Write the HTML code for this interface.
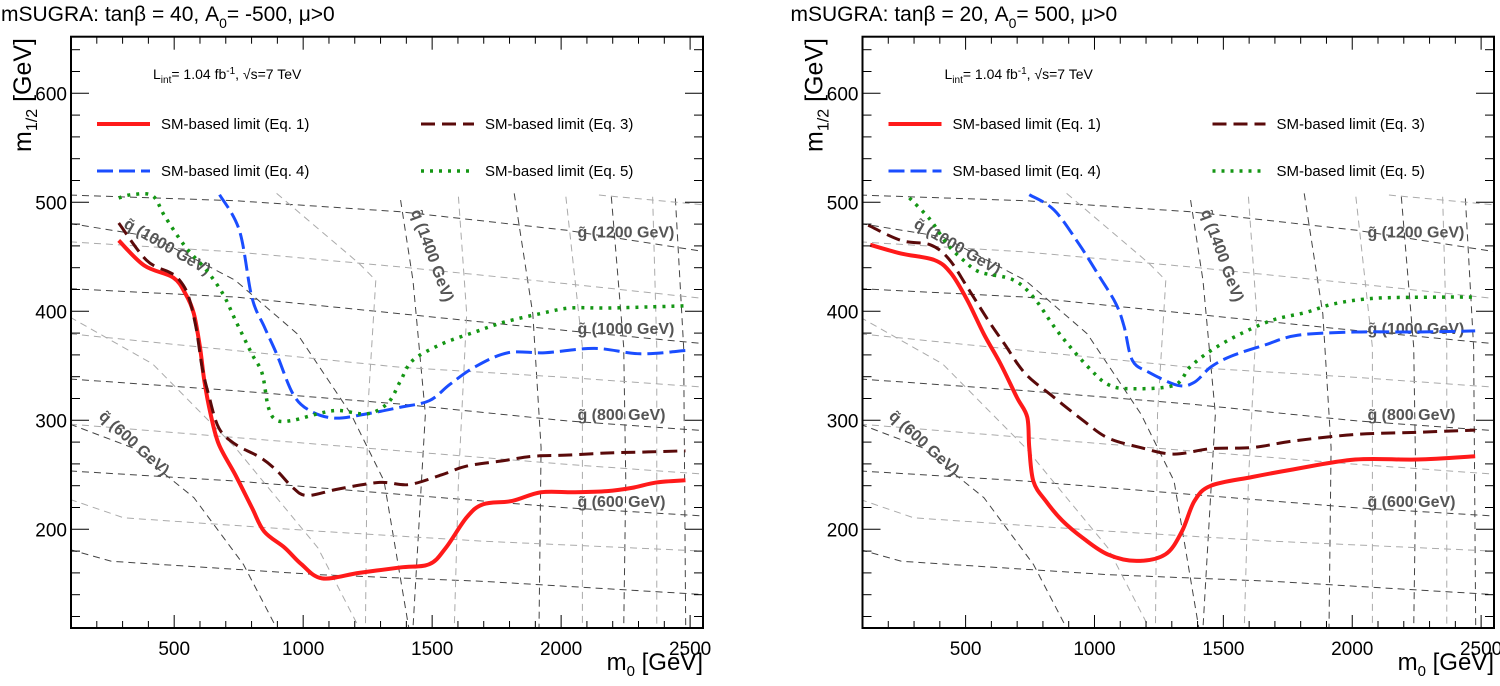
<!DOCTYPE html>
<html><head><meta charset="utf-8"><style>
html,body{margin:0;padding:0;background:#fff;width:1500px;height:686px;overflow:hidden}
svg{display:block;font-family:"Liberation Sans",sans-serif}
</style></head><body>
<svg id="chart" width="1500" height="686" xmlns="http://www.w3.org/2000/svg"></svg>
<script>
const xTicks=[500,1000,1500,2000,2500];
const yTicks=[200,300,400,500,600];
const titles=["mSUGRA: tanβ = 40, A","mSUGRA: tanβ = 20, A"];
const titleTails=["= -500, μ>0","= 500, μ>0"];
// left panel series [m0, m1/2]
const L_eq1_m0=[285,384,496,544,576,600,617,641,673,737,801,849,929,993,1073,1217,1377,1489,1553,1634,1698,1810,1922,2050,2178,2274,2370,2482];
const L_eq1_m12=[465,442,431,416,398,367,336,306,278,250,220,198,183,168,155,160,165,168,183,211,223,226,234,234,235,238,243,245];
const L_eq3_m0=[285,392,480,512,552,584,608,633,673,737,833,897,961,1017,1137,1297,1409,1537,1634,1778,1890,2018,2178,2338,2482];
const L_eq3_m12=[481,447,436,431,416,386,349,324,293,278,266,254,238,231,237,243,241,250,258,263,267,268,270,271,272];
const L_eq4_m0=[676,753,801,849,897,961,1025,1121,1249,1377,1489,1569,1666,1794,1938,2130,2306,2482];
const L_eq4_m12=[507,474,413,386,361,324,309,302,306,312,318,333,349,362,362,366,361,364];
const L_eq5_m0=[285,336,416,464,544,624,689,737,801,841,865,897,961,1057,1137,1249,1329,1377,1425,1537,1666,1778,1922,2034,2178,2338,2482];
const L_eq5_m12=[504,507,506,487,459,438,416,392,361,343,312,300,300,306,309,306,316,336,355,370,381,390,398,403,403,404,405];
// right panel series
const R_eq1_m0=[130,250,379,443,507,571,635,699,739,747,763,811,875,955,1051,1163,1275,1339,1388,1452,1612,1772,2012,2252,2477];
const R_eq1_m12=[461,453,447,435,410,379,352,321,303,275,244,226,208,192,177,171,177,198,226,240,248,255,264,264,267];
const R_eq3_m0=[122,250,363,435,507,587,651,731,843,955,1051,1179,1307,1452,1612,1772,2012,2252,2477];
const R_eq3_m12=[479,465,461,448,422,392,370,343,321,300,284,275,269,274,275,281,287,289,291];
const R_eq4_m0=[747,843,939,1019,1083,1115,1147,1211,1324,1388,1452,1532,1660,1788,2012,2252,2477];
const R_eq4_m12=[507,493,462,432,407,386,355,344,332,335,349,359,369,378,381,381,382];
const R_eq5_m0=[282,363,427,491,555,683,763,843,907,987,1051,1131,1307,1371,1452,1564,1692,1820,1932,2092,2332,2477];
const R_eq5_m12=[504,484,462,447,436,429,413,386,367,346,333,329,332,349,364,379,392,399,407,412,413,413];

const NS="http://www.w3.org/2000/svg";
const svg=document.getElementById('chart');
function mk(tag,attrs,parent){const e=document.createElementNS(NS,tag);for(const k in attrs)e.setAttribute(k,attrs[k]);(parent||svg).appendChild(e);return e;}
const TOP=36.7,BOT=628;
function yS(v){return 202.3-(v-500)*1.09;}
function smooth(P){let d='M'+P[0][0]+','+P[0][1];
 for(let i=0;i<P.length-1;i++){const p0=P[Math.max(0,i-1)],p1=P[i],p2=P[i+1],p3=P[Math.min(P.length-1,i+2)];
  const c1=[p1[0]+(p2[0]-p0[0])/6,p1[1]+(p2[1]-p0[1])/6],c2=[p2[0]-(p3[0]-p1[0])/6,p2[1]-(p3[1]-p1[1])/6];
  d+=' C'+c1.join(',')+' '+c2.join(',')+' '+p2.join(',');}
 return d;}

const bgDark=[[[0,45],[400,62],[800,95],[1200,150],[1540,215]],[[0,325],[400,350],[800,400],[1200,450],[1540,490]],[[0,595],[400,630],[800,670],[1200,720],[1540,750]],[[0,870],[400,900],[800,940],[1200,980],[1540,1005]],[[0,1105],[100,1140],[600,1180],[1000,1200],[1540,1240]],[[800,60],[830,300],[860,700],[830,1340]],[[1075,40],[1120,400],[1140,800],[1135,1340]],[[1310,50],[1340,500],[1345,900],[1340,1340]],[[1465,55],[1485,500],[1490,1340]],[[0,730],[150,800],[300,950],[420,1150],[500,1340]],[[0,130],[200,170],[400,300],[550,460],[680,700],[760,900],[820,1340]]];
const bgLight=[[[0,185],[400,215],[800,260],[1200,310],[1540,355]],[[0,460],[400,510],[800,560],[1200,590],[1540,620]],[[0,730],[400,770],[800,810],[1200,850],[1540,880]],[[0,955],[130,1010],[600,1050],[1000,1080],[1540,1110]],[[1280,45],[1540,75]],[[500,40],[700,250],[740,300],[720,700],[715,1340]],[[940,50],[960,400],[940,900],[930,1340]],[[1200,50],[1240,500],[1240,1340]],[[1410,50],[1420,500],[1420,1340]],[[0,410],[200,550],[400,800],[600,1100],[700,1340]]];

const panels=[
 {x0:71,x1:703,off:70,idx:0,series:[[L_eq1_m0,L_eq1_m12],[L_eq3_m0,L_eq3_m12],[L_eq4_m0,L_eq4_m12],[L_eq5_m0,L_eq5_m12]]},
 {x0:862.5,x1:1494,off:860,idx:1,series:[[R_eq1_m0,R_eq1_m12],[R_eq3_m0,R_eq3_m12],[R_eq4_m0,R_eq4_m12],[R_eq5_m0,R_eq5_m12]]}
];
const styles=[
 {stroke:'#ff1a1a',w:4,dash:'',name:'eq1-limit-curve',label:'SM-based limit (Eq. 1)'},
 {stroke:'#5a0a0a',w:3,dash:'14,7',name:'eq3-limit-curve',label:'SM-based limit (Eq. 3)'},
 {stroke:'#1a4dff',w:3,dash:'16,6',name:'eq4-limit-curve',label:'SM-based limit (Eq. 4)'},
 {stroke:'#149614',w:3.5,dash:'3,6',name:'eq5-limit-curve',label:'SM-based limit (Eq. 5)'}
];
const sqLabels=[
 {t:"q̃ (1000 GeV)",zx:128,zy:140,r:30},{t:"q̃ (1400 GeV)",zx:825,zy:95,r:70},{t:"q̃ (600 GeV)",zx:68,zy:710,r:42},
 {t:"g̃ (1200 GeV)",zx:1228,zy:172,r:0},{t:"g̃ (1000 GeV)",zx:1228,zy:460,r:0},{t:"g̃ (800 GeV)",zx:1228,zy:718,r:0},{t:"g̃ (600 GeV)",zx:1228,zy:978,r:0}
];

panels.forEach(p=>{
 const xS=v=>p.x0+(v-100)*(p.x1-p.x0)/2450;
 const g=mk('g',{});
 
 
 const cp='clip'+p.idx;
 const defs=mk('defs',{},g);const c=mk('clipPath',{id:cp},defs);mk('rect',{x:p.x0,y:TOP,width:p.x1-p.x0,height:BOT-TOP},c);
 const bg=mk('g',{'clip-path':'url(#'+cp+')'},g);
 
 
 const tr=v=>[p.off+v[0]/2.42,180+v[1]/2.99];
 bgDark.forEach(l=>{mk('polyline',{points:l.map(q=>tr(q).join(',')).join(' '),fill:'none',stroke:'#444','stroke-width':1,'stroke-dasharray':'7,5'},bg);});
 bgLight.forEach(l=>{mk('polyline',{points:l.map(q=>tr(q).join(',')).join(' '),fill:'none',stroke:'#aaa','stroke-width':1,'stroke-dasharray':'7,5'},bg);});
 sqLabels.forEach(s=>{const [x,y]=tr([s.zx,s.zy]);const t=mk('text',{x:x,y:y,'font-size':16,'font-weight':'bold',fill:'#555',transform:'rotate('+s.r+' '+x+' '+y+')'},bg);t.textContent=s.t;
  
  });
 p.series.forEach((s,i)=>{const st=styles[i];const P=s[0].map((m,j)=>[xS(m),yS(s[1][j])]);
  const e=mk('path',{d:smooth(P),fill:'none',stroke:st.stroke,'stroke-width':st.w,'stroke-dasharray':st.dash,'stroke-linejoin':'round','clip-path':'url(#'+cp+')'},g);
  
  });
 const fr=mk('rect',{x:p.x0,y:TOP,width:p.x1-p.x0,height:BOT-TOP,fill:'none',stroke:'#000','stroke-width':2},g);
 
 
 for(let v=200;v<=2500;v+=100){const x=xS(v);const L=v%500===0?13:7;
  mk('line',{x1:x,y1:BOT,x2:x,y2:BOT-L,stroke:'#000','stroke-width':1},g);
  mk('line',{x1:x,y1:TOP,x2:x,y2:TOP+L,stroke:'#000','stroke-width':1},g);}
 xTicks.forEach(v=>{const t=mk('text',{x:xS(v),y:BOT+27,'font-size':19,'text-anchor':'middle'},g);t.textContent=v;
  
  });
 for(let v=120;v<=640;v+=20){const y=yS(v);const L=v%100===0?18:9;
  mk('line',{x1:p.x0,y1:y,x2:p.x0+L,y2:y,stroke:'#000','stroke-width':1},g);
  mk('line',{x1:p.x1,y1:y,x2:p.x1-L,y2:y,stroke:'#000','stroke-width':1},g);}
 yTicks.forEach(v=>{const t=mk('text',{x:p.x0-4,y:yS(v)+7,'font-size':19,'text-anchor':'end'},g);t.textContent=v;
  
  });
 const xt=mk('text',{x:p.x1,y:670,'font-size':24,'text-anchor':'end'},g);
 xt.innerHTML='m<tspan font-size="15" dy="6">0</tspan><tspan dy="-6"> [GeV]</tspan>';
 
 
 const yt=mk('text',{x:0,y:0,'font-size':25,'text-anchor':'end',transform:'translate('+(p.x0-40)+',38) rotate(-90)'},g);
 yt.innerHTML='m<tspan font-size="16" dy="6">1/2</tspan><tspan dy="-6"> [GeV]</tspan>';
 
 
 const tt=mk('text',{x:p.x0-70+(p.idx?-2:0),y:21,'font-size':21},g);
 tt.innerHTML=titles[p.idx]+'<tspan font-size="14" dy="7">0</tspan><tspan dy="-7">'+titleTails[p.idx]+'</tspan>';
 
 
 const lt=mk('text',{x:p.x0+82,y:79,'font-size':14},g);
 lt.innerHTML='L<tspan font-size="10" dy="4">int</tspan><tspan dy="-4">= 1.04 fb</tspan><tspan font-size="10" dy="-5">-1</tspan><tspan dy="5">,  √s=7 TeV</tspan>';
 
 
 const lpos=[[p.x0+26,124],[p.x0+350,124],[p.x0+26,171],[p.x0+350,171]];
 styles.forEach((st,i)=>{const [lx,ly]=lpos[i];
  const lg=mk('g',{},g);
  
  
  mk('line',{x1:lx,y1:ly,x2:lx+53,y2:ly,stroke:st.stroke,'stroke-width':st.w,'stroke-dasharray':st.dash},lg);
  const t=mk('text',{x:lx+64,y:ly+5,'font-size':15},lg);t.textContent=st.label;});
});
</script>
</body></html>
